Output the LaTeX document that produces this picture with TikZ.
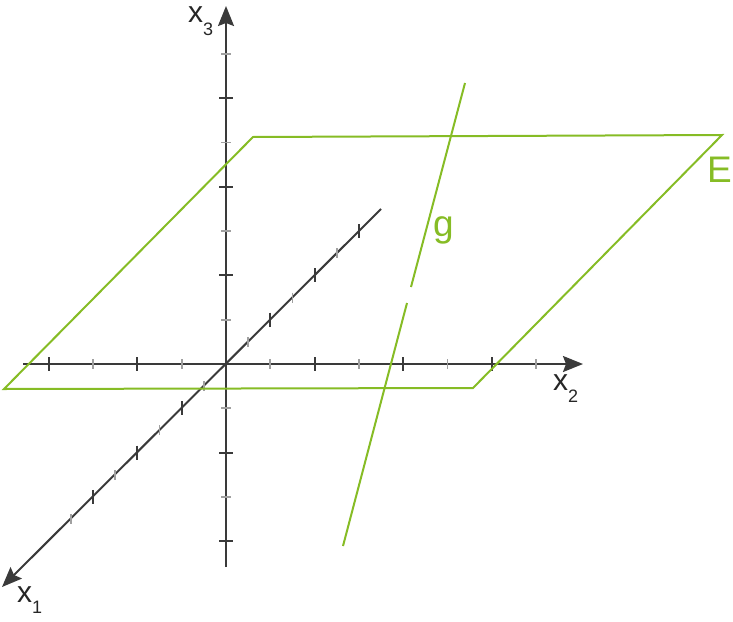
\documentclass[tikz,border=0pt]{standalone}
\usepackage{fontspec}
\setmainfont{Liberation Sans}
\usetikzlibrary{arrows.meta}
\definecolor{lime}{RGB}{134,188,37}
\definecolor{axisgrey}{RGB}{58,58,58}
\definecolor{tickgrey}{RGB}{160,160,160}
\newcommand{\axsub}[2]{\raisebox{-#1pt}{\fontsize{18}{18}\selectfont #2}}
\begin{document}
\begin{tikzpicture}[x=1pt,y=-1pt,
  axisline/.style={draw=axisgrey, line width=2pt, -{Stealth[length=20pt,width=16pt,inset=3pt]}},
  majortick/.style={draw=axisgrey, line width=2pt},
  minortick/.style={draw=tickgrey, line width=1.8pt},
  planeline/.style={draw=lime, line width=2pt, line join=miter},
  lbl/.style={inner sep=0pt, anchor=base west, text=black!85, font=\fontsize{30}{30}\selectfont},
  biglbl/.style={inner sep=0pt, anchor=base west, text=lime, font=\fontsize{37}{37}\selectfont}]
\useasboundingbox (0,0) rectangle (733,621);
% axes
\coordinate (O) at (226,364);
\coordinate (x2s) at (23,364);
\coordinate (x2e) at (583,364);
\coordinate (x3s) at (226,567);
\coordinate (x3e) at (226,6);
\coordinate (x1s) at (381,209);
\coordinate (x1e) at (2,587);
\draw[axisline] (x2s) -- (x2e);
\draw[axisline] (x3s) -- (x3e);
\draw[axisline] (x1s) -- (x1e);
% ticks on x2
\foreach \k in {-4,-2,2,4,6}
  \draw[majortick] ({226+\k*44.3},357) -- ({226+\k*44.3},371);
\foreach \k in {-3,-1,1,3,5,7}
  \draw[minortick] ({226+\k*44.3},359) -- ({226+\k*44.3},369);
% ticks on x3
\foreach \k in {-4,-2,2,4,6}
  \draw[majortick] (219,{364-\k*44.3}) -- (233,{364-\k*44.3});
\foreach \k in {-3,-1,1,3,5,7}
  \draw[minortick] (221,{364-\k*44.3}) -- (231,{364-\k*44.3});
% ticks on x1
\foreach \k in {-6,-4,-2,2,4,6}
  \draw[majortick] ({226-\k*22.15},{357+\k*22.15}) -- ({226-\k*22.15},{371+\k*22.15});
\foreach \k in {-5,-3,-1,1,3,5,7}
  \draw[minortick] ({226-\k*22.15},{359+\k*22.15}) -- ({226-\k*22.15},{369+\k*22.15});
% axis labels
\node[lbl] (lx3) at (188,23) {x\axsub{13}{3}};
\node[lbl] (lx2) at (553,390) {x\axsub{12}{2}};
\node[lbl] (lx1) at (17,602) {x\axsub{11}{1}};
% plane E
\coordinate (E1) at (4,389);
\coordinate (E2) at (253,137);
\coordinate (E3) at (722,135);
\coordinate (E4) at (473,388);
\draw[planeline] (E1) -- (E2) -- (E3) -- (E4) -- cycle;
\node[biglbl] (lE) at (707,182) {E};
% line g
\coordinate (g1) at (343,546);
\coordinate (g2) at (407,303);
\coordinate (g3) at (411,287);
\coordinate (g4) at (465,83);
\draw[planeline] (g1) -- (g2);
\draw[planeline] (g3) -- (g4);
\node[biglbl] (lg) at (433,236) {g};
\end{tikzpicture}
\end{document}
